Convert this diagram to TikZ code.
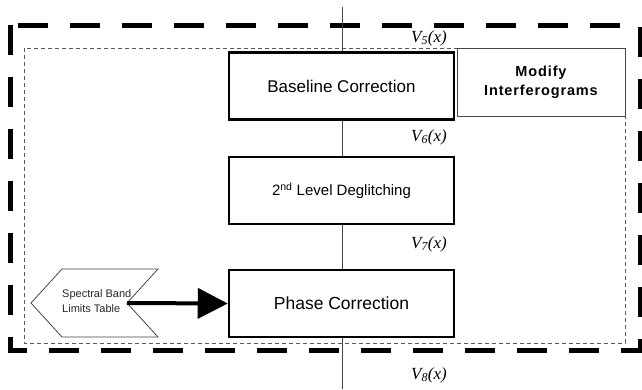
\documentclass[tikz,border=0pt]{standalone}
\usepackage{fontspec}
\setmainfont{Liberation Sans}
\newfontfamily\serifit{Liberation Serif}
\usetikzlibrary{arrows.meta}
\begin{document}
\begin{tikzpicture}[x=1pt,y=-1pt,
  proc/.style={draw=black, line width=2.5pt, fill=white, minimum width=225pt, minimum height=67pt, inner sep=0pt},
  vlab/.style={font=\fontsize{17}{20}\selectfont\serifit\itshape, inner sep=0pt},
  thin/.style={draw=gray!55!black, line width=0.8pt}]
\useasboundingbox (0,0) rectangle (642,389);
\draw[line width=5pt, dash pattern=on 30pt off 22pt] (10,25) rectangle (640,350);
\draw[gray!70!black, line width=0.8pt, dash pattern=on 4pt off 3pt] (24,48) rectangle (625,343);
\coordinate (top) at (342,7);
\coordinate (bot) at (342,389);
\draw[thin] (top) -- (bot);
\node[proc, font=\fontsize{17}{20}\selectfont] (base) at (341.5,86) {Baseline Correction};
\node[proc, font=\fontsize{15}{18}\selectfont] (degl) at (341.5,190.5) {2\textsuperscript{nd} Level Deglitching};
\node[proc, font=\fontsize{17.5}{20}\selectfont] (phase) at (341.5,303.5) {Phase Correction};
\node[thin, fill=white, minimum width=168pt, minimum height=68pt, align=center, inner sep=0pt,
  font=\fontsize{14.5}{19}\selectfont\bfseries\addfontfeature{LetterSpace=6}] (mod) at (541,82) {Modify\\Interferograms};
\draw[thin, fill=white] (31,303) -- (62,269) -- (158,269) -- (127,303) -- (158,337) -- (62,337) -- cycle;
\coordinate (notch) at (127,303);
\node[font=\fontsize{11}{15}\selectfont, align=left, anchor=west, inner sep=0pt, text=gray!30!black] (sbl) at (62,301.5) {Spectral Band\\Limits Table};
\draw[line width=4pt, -{Triangle[length=30pt,width=30pt]}] (notch) -- (phase.west);
\node[vlab] (v5) at (429,38) {V\textsubscript{5}(x)};
\node[vlab] (v6) at (429,137) {V\textsubscript{6}(x)};
\node[vlab] (v7) at (429,244) {V\textsubscript{7}(x)};
\node[vlab] (v8) at (429,375) {V\textsubscript{8}(x)};
\end{tikzpicture}
\end{document}
